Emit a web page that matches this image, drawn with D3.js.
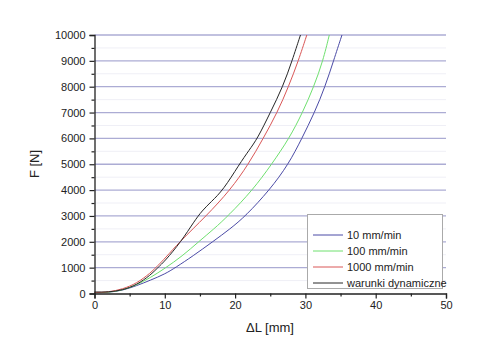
<!DOCTYPE html>
<html><head><meta charset="utf-8">
<script src="https://cdn.jsdelivr.net/npm/d3@7"></script>
<style>body{margin:0;background:#fff}svg{display:block}text{font-family:"Liberation Sans",Arial,sans-serif;fill:#222}</style>
</head><body><svg id="c" width="480" height="362"></svg>
<script>
const seriesNames = ["10 mm/min","100 mm/min","1000 mm/min","warunki dynamiczne"];
const seriesColors = ["#4b4ba6","#6ee06e","#d95656","#262626"];
const blueX = [0,2,4,6,8,10,11.5,14,16.8,19.3,21.5,24.9,27.6,29.5,31.3,32.8,34.0,35.2];
const blueF = [30,40,120,300,520,750,1000,1450,2000,2500,3000,4000,5000,6000,7000,8000,9000,10000];
const greenX = [0,2,4,6,8,10,12.5,14.8,17,19.0,22.5,25.2,27.7,29.6,31.2,32.5,33.4];
const greenF = [30,40,130,330,620,970,1450,2000,2500,3000,4000,5000,6000,7000,8000,9000,10000];
const redX = [0,2,4,6,8,9,10,12.1,15.9,19.3,21.9,24.0,26.0,27.6,29.0,30.2];
const redF = [40,50,170,390,800,1080,1350,2000,3000,4000,5000,6000,7000,8000,9000,10000];
const blackX = [0,2,4,6,8,9,10,12.3,14.2,15.3,16.6,18.3,20.6,22.0,23.2,25.0,26.8,28.1,29.3];
const blackF = [60,50,130,330,720,1000,1250,2000,2800,3200,3550,4000,5000,5550,6000,7000,8000,9000,10000];
const xTicks = [0,10,20,30,40,50];
const yTicks = [0,1000,2000,3000,4000,5000,6000,7000,8000,9000,10000];

const svg = d3.select("#c");
const x = d3.scaleLinear().domain([0,50]).range([94.5,446]);
const y = d3.scaleLinear().domain([0,10000]).range([293.5,35]);

svg.append("g").selectAll("line").data(d3.range(500,10000,1000)).join("line")
  .attr("x1",x(0)).attr("x2",x(50)).attr("y1",d=>y(d)).attr("y2",d=>y(d))
  .attr("stroke","#efeff6").attr("stroke-width",1);
svg.append("g").selectAll("line").data(yTicks.slice(1)).join("line")
  .attr("x1",x(0)).attr("x2",x(50)).attr("y1",d=>y(d)).attr("y2",d=>y(d))
  .attr("stroke","#acacd4").attr("stroke-width",1.3);

const series = [[blueX,blueF],[greenX,greenF],[redX,redF],[blackX,blackF]];
const line = d3.line().x(d=>x(d[0])).y(d=>y(d[1])).curve(d3.curveBasis);
series.forEach((s,i)=>{
  const pts = s[0].map((v,j)=>[v,s[1][j]]);
  svg.append("path").attr("d",line(pts)).attr("fill","none")
    .attr("stroke",seriesColors[i]).attr("stroke-width",1);
});

const yAxis = d3.axisLeft(y).tickValues(yTicks).tickSize(5).tickPadding(4).tickFormat(d3.format("d"));
svg.append("g").attr("transform",`translate(${x(0)},0)`).call(yAxis);
svg.append("g").attr("transform",`translate(${x(0)},0)`)
  .call(d3.axisLeft(y).tickValues(d3.range(500,10000,1000)).tickSize(3).tickFormat(""))
  .select(".domain").remove();
const xAxis = d3.axisBottom(x).tickValues(xTicks).tickSize(5).tickPadding(3);
svg.append("g").attr("transform",`translate(0,${y(0)})`).call(xAxis);
svg.append("g").attr("transform",`translate(0,${y(0)})`)
  .call(d3.axisBottom(x).tickValues([5,15,25,35,45]).tickSize(3).tickFormat(""))
  .select(".domain").remove();
svg.selectAll(".domain").attr("stroke","#222").attr("stroke-width",1.3);
svg.selectAll(".tick line").attr("stroke","#222").attr("stroke-width",1.2);
svg.selectAll(".tick text").attr("font-size","11px").attr("fill","#222")
  .attr("font-family","Liberation Sans, Arial, sans-serif");

svg.append("text").attr("x",270).attr("y",332).attr("text-anchor","middle")
  .attr("font-size","13px").text("\u0394L [mm]");
svg.append("text").attr("transform","translate(39,164) rotate(-90)").attr("text-anchor","middle")
  .attr("font-size","13px").text("F [N]");

const lg = svg.append("g");
lg.append("rect").attr("x",307.5).attr("y",214.5).attr("width",135).attr("height",74)
  .attr("fill","#fff").attr("stroke","#aaa").attr("stroke-width",1);
seriesNames.forEach((n,i)=>{
  const yy = 235 + i*16;
  lg.append("line").attr("x1",313).attr("x2",343).attr("y1",yy).attr("y2",yy)
    .attr("stroke",seriesColors[i]).attr("stroke-width",1);
  lg.append("text").attr("x",347).attr("y",yy+4).attr("font-size","11px").text(n);
});
</script></body></html>
